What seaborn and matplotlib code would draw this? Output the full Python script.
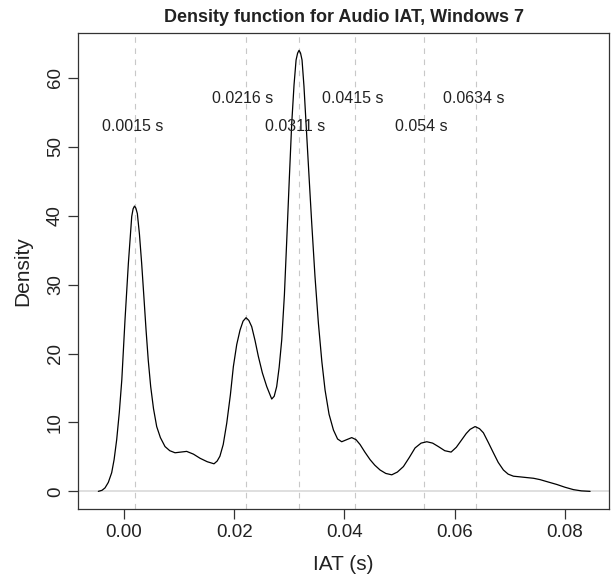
import matplotlib
matplotlib.use("Agg")
import matplotlib.pyplot as plt
import seaborn as sns

# density curve (IAT in seconds, density)
iat_s = [-0.00466, -0.00400, -0.00345, -0.00285, -0.00224, -0.00180, -0.00133, -0.00085,
         -0.00040, 0.00018, 0.00079, 0.00140, 0.00165, 0.00190, 0.00215, 0.00242,
         0.00280, 0.00320, 0.00360, 0.00400, 0.00440, 0.00484, 0.00535, 0.00593,
         0.00660, 0.00744, 0.00830, 0.00926, 0.01030, 0.01137, 0.01260, 0.01380,
         0.01510, 0.01633, 0.01690, 0.01740, 0.01800, 0.01864, 0.01930, 0.01984,
         0.02045, 0.02105, 0.02160, 0.02214, 0.02265, 0.02317, 0.02377, 0.02437,
         0.02510, 0.02590, 0.02680, 0.02725, 0.02770, 0.02815, 0.02862, 0.02910,
         0.02953, 0.03000, 0.03043, 0.03085, 0.03122, 0.03150, 0.03176, 0.03203,
         0.03230, 0.03265, 0.03303, 0.03355, 0.03406, 0.03465, 0.03527, 0.03590,
         0.03648, 0.03720, 0.03800, 0.03875, 0.03950, 0.04040, 0.04132, 0.04210,
         0.04283, 0.04370, 0.04465, 0.04550, 0.04646, 0.04750, 0.04858, 0.04960,
         0.05070, 0.05175, 0.05281, 0.05390, 0.05494, 0.05600, 0.05704, 0.05820,
         0.05935, 0.06030, 0.06129, 0.06210, 0.06280, 0.06370, 0.06450, 0.06521,
         0.06610, 0.06702, 0.06790, 0.06884, 0.06970, 0.07066, 0.07190, 0.07308,
         0.07430, 0.07550, 0.07700, 0.07853, 0.08000, 0.08155, 0.08300, 0.08457]
density = [0.0, 0.15, 0.5, 1.3, 2.7, 4.6, 7.5, 11.5,
           16.2, 24.9, 33.1, 39.9, 41.0, 41.4, 41.1, 40.3,
           37.3, 33.1, 28.3, 23.4, 19.0, 15.2, 12.0, 9.4,
           7.8, 6.5, 5.9, 5.6, 5.7, 5.8, 5.4, 4.8,
           4.3, 4.0, 4.4, 5.1, 6.8, 9.9, 14.0, 18.1,
           21.3, 23.4, 24.7, 25.2, 24.8, 23.9, 21.9, 19.6,
           17.2, 15.2, 13.4, 13.8, 15.2, 18.0, 22.0, 28.5,
           36.5, 45.5, 53.4, 59.0, 62.6, 63.6, 64.0, 63.6,
           62.6, 58.8, 53.4, 46.0, 38.9, 31.2, 24.4, 18.8,
           14.7, 11.2, 8.9, 7.6, 7.2, 7.5, 7.8, 7.5,
           6.8, 5.7, 4.6, 3.8, 3.1, 2.6, 2.4, 2.8,
           3.6, 4.9, 6.3, 7.0, 7.2, 7.0, 6.5, 5.9,
           5.7, 6.4, 7.5, 8.4, 9.0, 9.4, 9.1, 8.5,
           7.1, 5.6, 4.2, 3.1, 2.5, 2.2, 2.1, 2.0,
           1.9, 1.7, 1.35, 1.0, 0.6, 0.25, 0.07, 0.0]
assert len(iat_s) == len(density)

# peak markers and their labels
peak_lines = [0.0020, 0.0221, 0.0317, 0.0420, 0.0545, 0.0639]
peak_values = [0.0015, 0.0216, 0.0311, 0.0415, 0.054, 0.0634]
peak_labels = ["0.0015 s", "0.0216 s", "0.0311 s", "0.0415 s", "0.054 s", "0.0634 s"]
label_y = [53, 57, 53, 57, 53, 57]

x_ticks = [0.00, 0.02, 0.04, 0.06, 0.08]
y_ticks = [0, 10, 20, 30, 40, 50, 60]

sns.set_style("ticks")
plt.rcParams['font.family'] = ['Liberation Sans', 'DejaVu Sans']

fig = plt.figure(figsize=(6.11, 5.83), dpi=100)
ax = fig.add_axes([78 / 611, 74 / 583, 531 / 611, 476.3 / 583])

ax.axhline(0, color='#d9d9d9', lw=1.2, zorder=1)
for px in peak_lines:
    ax.axvline(px, color='#c8c8c8', lw=0.8, dashes=(5, 5), zorder=1)

sns.lineplot(x=iat_s, y=density, color='black', lw=0.9, ax=ax, zorder=3)

for px, lab, ly in zip(peak_values, peak_labels, label_y):
    ax.text(px, ly, lab, ha='center', va='center', fontsize=11.5, color='#222222')

ax.set_xlim(-0.00835, 0.0880)
ax.set_ylim(-2.56, 66.56)
ax.set_xticks(x_ticks)
ax.set_xticklabels([f"{v:.2f}" for v in x_ticks])
ax.set_yticks(y_ticks)
ax.set_yticklabels([str(v) for v in y_ticks], rotation=90, va='center')

for side in ax.spines.values():
    side.set_color('#333333')
    side.set_linewidth(0.9)
ax.tick_params(direction='out', length=7, width=0.9, color='#333333',
               labelsize=13.5, labelcolor='#222222')
ax.tick_params(axis='x', pad=4)
ax.tick_params(axis='y', pad=3)

ax.set_xlabel("IAT (s)", fontsize=15, color='#222222', labelpad=10)
ax.set_ylabel("Density", fontsize=15, color='#222222', labelpad=11)
ax.set_title("Density function for Audio IAT, Windows 7", fontsize=13,
             fontweight='bold', color='#222222', pad=8)

fig.savefig("out.png", dpi=100)
